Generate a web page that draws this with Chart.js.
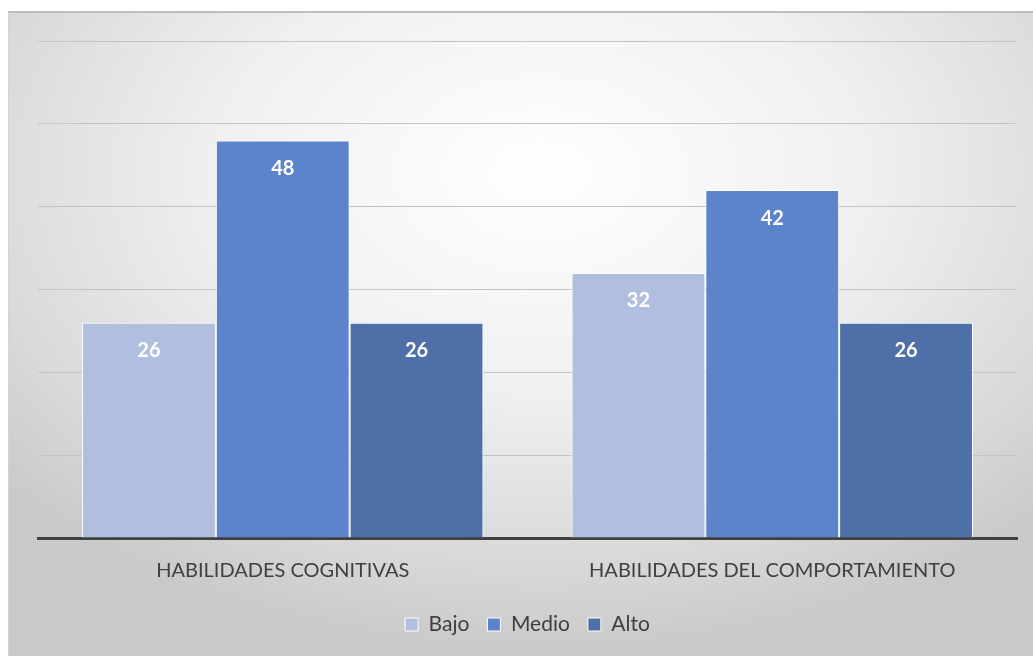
<!DOCTYPE html>
<html>
<head>
<meta charset="utf-8">
<script src="https://cdn.jsdelivr.net/npm/chart.js@4/dist/chart.umd.min.js"></script>
<style>
    html, body { margin: 0; padding: 0; background: #ffffff; }
    #frame {
        position: absolute;
        left: 8px; top: 11px;
        width: 1025px; height: 645px;
        box-sizing: border-box;
        border-top: 2px solid #bdbdbd;
        border-left: 1px solid #d4d4d4;
        background: radial-gradient(ellipse 70% 75% at 52% 25%, #ffffff 0%, #f0f0f0 45%, #d9d9d9 80%, #c9c9c9 100%);
    }
    #wrap { position: absolute; left: 0; top: 0; width: 1033px; height: 656px; }
</style>
</head>
<body>
<div id="frame"></div>
<div id="wrap"><canvas id="chart"></canvas></div>
<script>
    // Chart data
    const categories = ['HABILIDADES COGNITIVAS', 'HABILIDADES DEL COMPORTAMIENTO'];
    const seriesNames = ['Bajo', 'Medio', 'Alto'];
    const bajo = [26, 32];
    const medio = [48, 42];
    const alto = [26, 26];
    const colors = ['#b0bee0', '#5b84cc', '#4e6fa8'];

    // Draw value labels inside the bars
    const valueLabels = {
        id: 'valueLabels',
        afterDatasetsDraw(chart) {
            const ctx = chart.ctx;
            ctx.save();
            ctx.fillStyle = '#ffffff';
            ctx.font = 'bold 20px Lato, "Open Sans", sans-serif';
            ctx.textAlign = 'center';
            ctx.textBaseline = 'middle';
            chart.data.datasets.forEach((ds, i) => {
                chart.getDatasetMeta(i).data.forEach((bar, j) => {
                    ctx.fillText(ds.data[j], bar.x, bar.y + 28);
                });
            });
            ctx.restore();
        }
    };

    const allSeries = [bajo, medio, alto];

    new Chart(document.getElementById('chart'), {
        type: 'bar',
        data: {
            labels: categories,
            datasets: seriesNames.map((name, i) => ({
                label: name,
                data: allSeries[i],
                backgroundColor: colors[i],
                borderColor: '#ffffff',
                borderWidth: 1,
                categoryPercentage: 0.82,
                barPercentage: 1.0
            }))
        },
        options: {
            responsive: true,
            maintainAspectRatio: false,
            animation: false,
            layout: { padding: { left: 38, right: 16, top: 41, bottom: 11 } },
            scales: {
                x: {
                    grid: { display: false },
                    border: { display: true, color: '#404040', width: 3 },
                    ticks: { color: '#404040', font: { family: 'Lato, "Open Sans", sans-serif', size: 20 }, padding: 13 }
                },
                y: {
                    min: 0,
                    max: 60,
                    ticks: { display: false, stepSize: 10 },
                    grid: { color: '#c4c4c4', lineWidth: 1, drawTicks: false },
                    border: { display: false }
                }
            },
            plugins: {
                legend: {
                    position: 'bottom',
                    labels: {
                        color: '#404040',
                        boxWidth: 13,
                        boxHeight: 13,
                        padding: 18,
                        font: { family: 'Lato, "Open Sans", sans-serif', size: 21 }
                    }
                },
                tooltip: { enabled: false }
            }
        },
        plugins: [valueLabels]
    });
</script>
</body>
</html>
